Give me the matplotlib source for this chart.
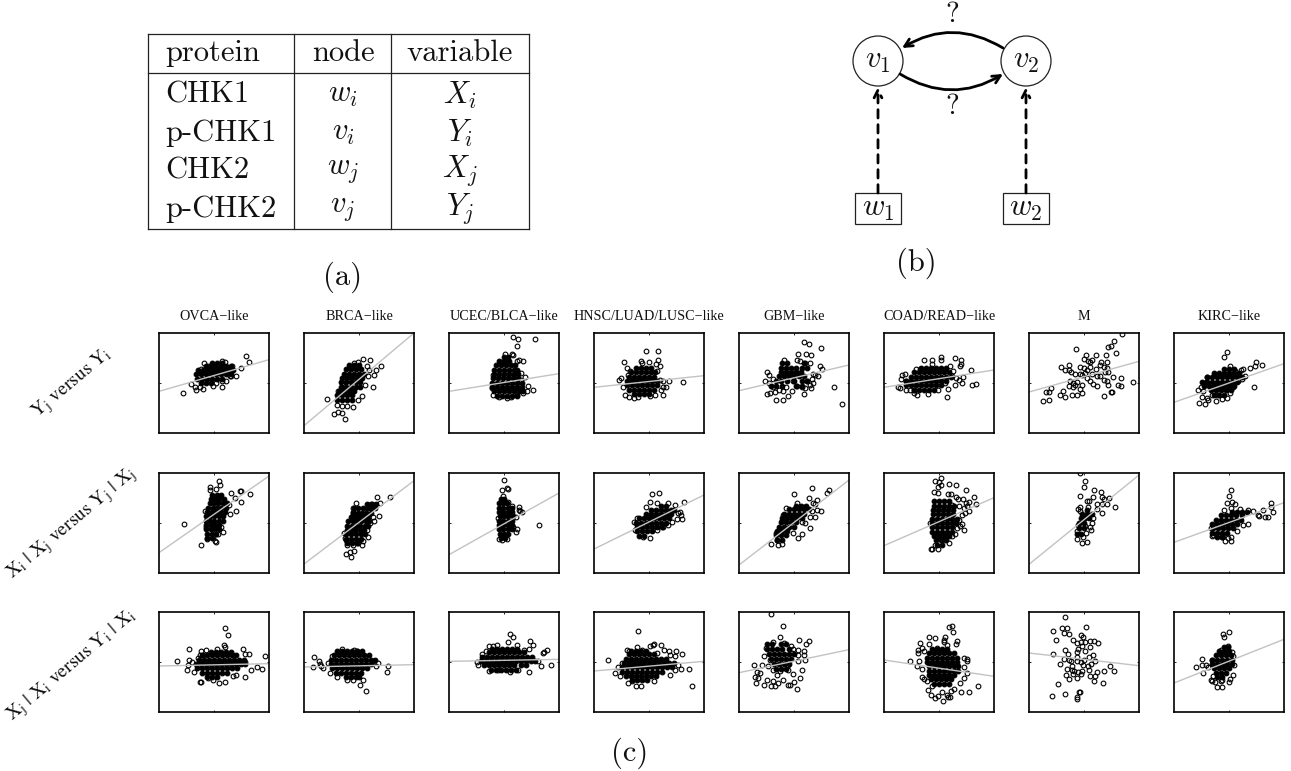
# -*- coding: utf-8 -*-
import matplotlib
matplotlib.use('Agg')
import matplotlib.pyplot as plt
from matplotlib.patches import Circle, FancyArrowPatch

plt.rcParams['mathtext.fontset'] = 'cm'
plt.rcParams['axes.unicode_minus'] = False

W, H = 1291, 771

#%% table (a)
proteins = ['CHK1', 'p-CHK1', 'CHK2', 'p-CHK2']
nodes = ['$w_i$', '$v_i$', '$w_j$', '$v_j$']
variables = ['$X_i$', '$Y_i$', '$X_j$', '$Y_j$']

#%% scatter panels (panel units: x 0-330, y 0-300)
titles = ['OVCA\u2212like', 'BRCA\u2212like', 'UCEC/BLCA\u2212like', 'HNSC/LUAD/LUSC\u2212like',
          'GBM\u2212like', 'COAD/READ\u2212like', 'M', 'KIRC\u2212like']
row_labels = [r'$\mathrm{Y_j\ versus\ Y_i}$',
              r'$\mathrm{X_i\ |\ X_j\ versus\ Y_j\ |\ X_j}$',
              r'$\mathrm{X_j\ |\ X_i\ versus\ Y_i\ |\ X_i}$']

line_left = [[125, 22, 125, 137, 127, 137, 123, 92],
             [61, 27, 55, 72, 24, 82, 26, 92],
             [138, 135, 152, 123, 118, 156, 177, 87]]
line_right = [[220, 300, 178, 172, 204, 189, 215, 208],
              [291, 277, 240, 234, 279, 226, 294, 211],
              [145, 142, 158, 152, 187, 107, 139, 218]]

# core = overlapping points that print solid, as {y: [x, ...]}
core_11 = {150: [125, 140, 155], 163: [115, 130, 145, 160, 175, 190],
           176: [110, 125, 140, 155, 170, 185, 200, 215], 189: [118, 133, 148, 163, 178, 193, 208, 222],
           202: [140, 155, 170, 185, 200, 215], 211: [160, 175, 190]}
open_11 = [(72, 120), (262, 230), (270, 212), (245, 196), (232, 170), (217, 172), (190, 137), (162, 142),
           (132, 132), (112, 130), (97, 147), (134, 210), (147, 202), (189, 216), (198, 214), (190, 155),
           (202, 155), (214, 170), (127, 192), (220, 200), (107, 138), (172, 150), (122, 138)]
core_12 = {100: [100, 115, 130, 145], 113: [100, 115, 130, 145], 126: [105, 120, 135, 150],
           139: [110, 125, 140, 155, 168], 152: [110, 125, 140, 155, 168], 165: [115, 130, 145, 160, 175],
           178: [120, 135, 150, 165, 180], 191: [125, 140, 155, 170], 204: [135, 150, 165]}
open_12 = [(70, 102), (91, 58), (101, 62), (113, 60), (123, 42), (98, 84), (113, 82), (128, 82), (146, 78),
           (176, 223), (198, 220), (161, 212), (188, 202), (196, 188), (216, 190), (232, 202), (210, 175),
           (208, 138), (183, 145), (173, 110), (163, 100), (150, 210), (103, 125), (113, 150), (128, 185),
           (193, 170)]
core_13 = {112: [145, 160, 175, 190, 205], 125: [135, 150, 165, 180, 195, 210, 222],
           138: [130, 145, 160, 175, 190, 205, 220], 151: [130, 145, 160, 175, 190, 205, 220],
           164: [132, 147, 162, 177, 192, 207], 177: [135, 150, 165, 180, 195, 208],
           190: [135, 150, 165, 180, 195, 205], 203: [140, 155, 170, 185, 198], 216: [150, 165, 180],
           229: [165, 178]}
open_13 = [(191, 288), (206, 282), (258, 282), (203, 262), (168, 238), (188, 238), (193, 233), (175, 222),
           (203, 217), (211, 220), (223, 215), (156, 212), (203, 185), (215, 180), (228, 168), (238, 140),
           (251, 128), (235, 125), (221, 120), (203, 115), (186, 107), (175, 105), (150, 108), (133, 115),
           (128, 135), (131, 175), (216, 160)]
core_14 = {118: [120, 135, 150, 165], 130: [105, 120, 135, 150, 165, 180],
           143: [100, 115, 130, 145, 160, 175, 190], 156: [100, 115, 130, 145, 160, 175, 190],
           169: [105, 120, 135, 150, 165, 180], 182: [110, 125, 140, 155, 170, 183], 195: [125, 140, 155, 170]}
open_14 = [(157, 245), (192, 245), (89, 214), (141, 217), (145, 210), (166, 214), (193, 219), (186, 208),
           (108, 185), (98, 195), (80, 165), (75, 158), (105, 160), (86, 137), (93, 115), (105, 108), (120, 105),
           (133, 107), (168, 110), (183, 115), (208, 115), (200, 130), (208, 138), (216, 138), (206, 157),
           (224, 155), (266, 152), (198, 160), (198, 200), (188, 185), (103, 175)]
core_15 = {140: [95, 110, 130, 170, 190], 155: [110, 125, 145, 165, 190, 205],
           170: [120, 135, 150, 165, 180, 195], 183: [125, 140, 155, 170, 185],
           196: [125, 140, 155, 170, 190, 205], 209: [130, 145, 195]}
open_15 = [(195, 273), (211, 267), (245, 255), (178, 238), (201, 237), (216, 235), (136, 218), (173, 220),
           (183, 215), (198, 210), (213, 210), (243, 202), (250, 193), (83, 182), (91, 175), (101, 163), (91, 150),
           (78, 155), (228, 175), (238, 172), (223, 178), (218, 162), (213, 145), (198, 135), (216, 135), (286, 137),
           (308, 86), (196, 117), (83, 118), (93, 120), (108, 122), (133, 125), (111, 100), (131, 100), (148, 112),
           (158, 125), (173, 140), (188, 138), (103, 138), (121, 130), (141, 138), (163, 155), (223, 150), (203, 155)]
core_16 = {130: [90, 105, 120, 135, 150], 143: [65, 80, 95, 110, 125, 140, 155, 170],
           156: [65, 80, 95, 110, 125, 140, 155, 170, 185], 169: [80, 95, 110, 125, 140, 155, 170, 185, 200],
           182: [90, 105, 120, 135, 150, 165, 180, 195], 195: [110, 125, 140, 155, 170, 185]}
open_16 = [(172, 228), (214, 225), (231, 220), (232, 208), (227, 200), (119, 220), (144, 220), (144, 208),
           (172, 218), (97, 192), (107, 192), (54, 175), (64, 178), (51, 163), (66, 155), (41, 138), (49, 134),
           (67, 128), (89, 130), (99, 113), (131, 117), (162, 130), (191, 132), (189, 109), (184, 150), (224, 160),
           (237, 168), (235, 150), (264, 144), (275, 148), (261, 188), (207, 185), (197, 200), (204, 170), (217, 165),
           (214, 145), (79, 130), (89, 120)]
core_17 = {}
open_17 = [(278, 297), (255, 277), (245, 262), (236, 257), (141, 252), (260, 240), (231, 235), (171, 235),
           (200, 233), (188, 220), (165, 222), (178, 215), (183, 212), (216, 213), (233, 213), (120, 203), (96, 198),
           (109, 190), (121, 190), (153, 197), (165, 195), (183, 197), (200, 192), (226, 197), (235, 195), (213, 205),
           (125, 182), (138, 178), (153, 178), (173, 188), (168, 180), (158, 175), (238, 182), (228, 182), (205, 170),
           (213, 172), (253, 168), (276, 164), (311, 154), (235, 155), (226, 160), (173, 164), (183, 155), (193, 148),
           (203, 140), (123, 155), (131, 150), (143, 152), (121, 142), (133, 138), (138, 145), (158, 145), (153, 132),
           (158, 120), (101, 125), (93, 115), (108, 107), (130, 115), (143, 115), (225, 112), (245, 124), (248, 124),
           (266, 143), (275, 140), (238, 145), (66, 135), (51, 123), (61, 122), (41, 97), (61, 98), (190, 178)]
core_18 = {115: [120, 135, 150], 128: [110, 125, 140, 155, 170], 141: [90, 105, 120, 135, 150, 165, 180],
           154: [85, 100, 115, 130, 145, 160, 175, 190], 167: [100, 115, 130, 145, 160, 175, 190, 203],
           180: [120, 135, 150, 165, 180, 195], 192: [150, 165, 180]}
open_18 = [(158, 242), (150, 228), (168, 202), (246, 212), (263, 203), (243, 200), (228, 195), (200, 190),
           (183, 187), (208, 192), (213, 170), (241, 137), (95, 152), (80, 138), (73, 128), (88, 125), (83, 108),
           (98, 105), (103, 100), (76, 90), (93, 88), (125, 95), (143, 102), (158, 105), (168, 120), (178, 138),
           (128, 115), (113, 115), (193, 155), (203, 162), (98, 168), (128, 175)]

core_21 = {105: [145, 158], 118: [145, 158, 172], 131: [142, 155, 168, 180], 144: [142, 155, 168, 180],
           157: [140, 153, 166, 179, 192], 170: [140, 153, 166, 179, 192], 183: [145, 158, 171, 184, 197],
           196: [148, 161, 174, 187, 200], 209: [152, 165, 178, 191, 204], 222: [155, 168, 181, 194],
           235: [160, 173, 186]}
open_21 = [(180, 277), (182, 265), (154, 257), (154, 249), (172, 251), (242, 247), (245, 247), (272, 238),
           (215, 241), (227, 224), (245, 214), (232, 187), (212, 177), (75, 148), (139, 187), (142, 137), (150, 124),
           (192, 124), (185, 139), (125, 84), (144, 103), (162, 107), (167, 97), (170, 93), (177, 117), (192, 179),
           (210, 204)]
core_22 = {90: [130, 145, 160], 103: [125, 140, 155, 170], 116: [125, 140, 155, 170, 183],
           129: [128, 141, 154, 167, 180], 142: [130, 143, 156, 169, 182, 193], 155: [133, 146, 159, 172, 185, 196],
           168: [140, 153, 166, 179, 192], 181: [148, 161, 174, 187, 200], 194: [150, 163, 176, 189, 202, 212],
           207: [190, 203, 215]}
open_22 = [(220, 227), (258, 227), (155, 209), (148, 194), (148, 184), (146, 174), (200, 206), (210, 204),
           (228, 209), (226, 171), (211, 156), (188, 129), (191, 109), (178, 97), (173, 84), (121, 119), (126, 99),
           (128, 84), (126, 58), (138, 64), (150, 66), (140, 48), (146, 84), (163, 89), (123, 104), (208, 169),
           (198, 149), (193, 194)]
core_23 = {105: [155, 168], 118: [152, 165, 178], 131: [150, 163, 176, 189], 144: [150, 163, 176, 189],
           157: [150, 163, 176, 189], 170: [152, 165, 178, 191], 183: [150, 163, 176, 189], 196: [150, 163, 176, 189],
           209: [150, 163, 175], 222: [155, 165]}
open_23 = [(165, 278), (158, 248), (175, 256), (178, 252), (161, 231), (159, 219), (176, 212), (190, 202),
           (211, 199), (211, 189), (220, 182), (213, 186), (200, 169), (270, 144), (205, 132), (201, 124), (175, 101),
           (160, 98), (150, 102), (148, 164), (183, 184), (193, 139)]
core_24 = {112: [135, 150], 125: [130, 145, 160, 175], 138: [128, 143, 158, 173, 188, 203],
           151: [125, 140, 155, 170, 185, 200, 215], 164: [135, 150, 165, 180, 195, 210, 225],
           177: [155, 170, 185, 200, 215, 230], 190: [170, 185, 200, 215, 230, 240], 200: [200, 215]}
open_24 = [(175, 238), (196, 240), (168, 212), (188, 211), (221, 211), (243, 204), (269, 213), (156, 199),
           (130, 166), (120, 154), (123, 129), (148, 107), (169, 105), (188, 129), (221, 144), (248, 161), (263, 161),
           (258, 184), (260, 174), (253, 179), (208, 139), (233, 154)]
core_25 = {100: [115, 130], 113: [110, 125, 140], 126: [115, 130, 145], 139: [120, 135, 150, 165],
           152: [125, 140, 155, 170], 165: [130, 145, 160, 175, 190], 178: [135, 150, 165, 180, 195],
           191: [150, 165, 180, 195, 210], 201: [170, 185, 200]}
open_25 = [(218, 256), (271, 248), (263, 239), (164, 237), (211, 226), (233, 220), (221, 211), (228, 206),
           (173, 209), (140, 196), (233, 189), (245, 185), (218, 187), (195, 199), (133, 174), (128, 157), (213, 169),
           (228, 169), (213, 136), (188, 116), (176, 105), (95, 86), (118, 83), (128, 86), (113, 99), (111, 119),
           (133, 129), (163, 119), (198, 149), (188, 154)]
core_26 = {85: [160, 175], 98: [155, 170, 185], 111: [150, 165, 180, 195], 124: [145, 160, 175, 190, 205],
           137: [145, 160, 175, 190, 205], 150: [143, 158, 173, 188, 203, 215], 163: [143, 158, 173, 188, 203, 218],
           176: [148, 163, 178, 193, 208], 189: [148, 163, 178, 193, 208], 202: [150, 165, 180, 195, 210],
           215: [150, 165, 180, 195]}
open_26 = [(172, 285), (152, 276), (166, 272), (171, 264), (161, 259), (195, 267), (215, 265), (151, 242),
           (162, 239), (191, 237), (202, 237), (217, 229), (221, 222), (247, 248), (269, 227), (237, 223), (254, 214),
           (247, 211), (275, 207), (249, 201), (224, 201), (241, 194), (254, 187), (244, 179), (234, 174), (224, 159),
           (234, 147), (229, 141), (239, 129), (214, 117), (204, 112), (194, 89), (162, 73), (141, 73), (144, 73),
           (154, 84), (179, 99), (139, 149), (219, 134), (204, 204)]
core_27 = {118: [145, 155], 135: [150, 165], 150: [150, 165], 165: [155, 168, 180], 178: [160, 175, 190], 189: [175]}
open_27 = [(153, 299), (168, 276), (165, 259), (196, 249), (217, 242), (218, 229), (191, 227), (153, 232),
           (226, 222), (241, 226), (173, 216), (179, 216), (203, 207), (219, 207), (233, 206), (259, 197), (153, 197),
           (148, 191), (178, 197), (205, 191), (218, 181), (193, 164), (190, 151), (185, 129), (171, 121), (148, 144),
           (145, 127), (143, 103), (158, 89), (173, 94), (161, 107), (153, 187), (183, 139), (168, 141)]
core_28 = {108: [130, 145], 121: [115, 130, 145, 160], 134: [118, 133, 148, 163, 178],
           147: [115, 130, 145, 160, 175, 190], 160: [125, 140, 155, 170, 185, 200],
           173: [140, 155, 170, 185, 205], 183: [175, 190, 205, 220]}
open_28 = [(170, 249), (166, 232), (175, 214), (158, 210), (182, 206), (171, 194), (198, 191), (151, 188),
           (290, 209), (291, 199), (266, 189), (298, 182), (238, 186), (221, 189), (253, 174), (256, 172), (273, 167),
           (283, 168), (223, 147), (206, 144), (190, 126), (110, 136), (116, 113), (114, 111), (148, 111), (170, 109),
           (170, 96), (153, 96), (143, 107), (163, 104)]

core_31 = {105: [145, 160, 175], 118: [130, 145, 160, 175, 190, 205],
           131: [115, 130, 145, 160, 175, 190, 205, 220, 235],
           144: [110, 125, 140, 155, 170, 185, 200, 215, 230, 245, 258],
           157: [120, 135, 150, 165, 180, 195, 210, 225, 240, 255],
           170: [130, 145, 160, 175, 190, 205, 220, 232], 180: [155, 170, 185, 200, 215]}
open_31 = [(199, 251), (208, 231), (194, 200), (197, 194), (90, 189), (127, 182), (140, 187), (174, 189),
           (252, 189), (259, 174), (269, 175), (317, 167), (53, 154), (90, 156), (99, 149), (87, 142), (85, 127),
           (104, 120), (277, 127), (294, 135), (310, 128), (257, 149), (259, 105), (122, 91), (126, 91), (162, 97),
           (180, 86), (197, 90), (222, 107), (232, 112), (122, 172), (117, 162), (132, 172), (222, 172), (147, 102)]
core_32 = {105: [125, 140, 155, 165], 118: [95, 110, 125, 140, 155, 170],
           131: [85, 100, 115, 130, 145, 160, 175, 190], 144: [80, 95, 110, 125, 140, 155, 170, 185, 200],
           157: [80, 95, 110, 125, 140, 155, 170, 185, 200, 212], 170: [90, 105, 120, 135, 150, 165, 180, 195],
           183: [100, 115, 130, 145, 160, 175]}
open_32 = [(185, 64), (168, 82), (178, 97), (148, 95), (128, 95), (113, 189), (108, 180), (118, 180), (150, 187),
           (85, 169), (29, 164), (44, 152), (48, 145), (52, 139), (56, 132), (28, 135), (73, 147), (223, 147),
           (216, 137), (253, 138), (250, 121), (78, 117), (98, 104), (163, 112), (158, 182), (183, 167), (208, 152)]
core_33 = {127: [125, 140, 155, 170, 185, 200], 140: [105, 120, 135, 150, 165, 180, 195, 215, 230],
           153: [95, 110, 125, 140, 155, 170, 185, 200, 215, 230, 245, 258],
           166: [100, 115, 130, 145, 160, 175, 190, 205, 220, 235, 250],
           179: [120, 135, 150, 165, 180, 195, 210, 225], 190: [130, 145, 160, 175, 190, 205]}
open_33 = [(183, 235), (192, 224), (177, 209), (243, 214), (251, 201), (121, 199), (133, 199), (144, 201),
           (203, 202), (98, 175), (111, 182), (226, 185), (239, 189), (293, 186), (286, 179), (283, 177), (277, 139),
           (307, 141), (240, 120), (121, 122), (83, 150), (87, 140), (268, 152), (184, 119), (148, 127), (208, 127)]
core_34 = {95: [115, 130, 145, 160], 108: [95, 110, 125, 140, 155, 170, 185],
           121: [85, 100, 115, 130, 145, 160, 175, 190, 205],
           134: [85, 100, 115, 130, 145, 160, 175, 190, 205, 220, 235],
           147: [90, 105, 120, 135, 150, 165, 180, 195, 210, 225, 240],
           160: [95, 110, 125, 140, 155, 170, 185, 200, 215], 173: [105, 120, 135, 150, 165, 180],
           183: [110, 125, 140, 155]}
open_34 = [(133, 242), (43, 155), (64, 118), (77, 107), (73, 135), (83, 147), (98, 187), (105, 182), (130, 194),
           (143, 187), (168, 197), (176, 202), (180, 205), (201, 202), (210, 187), (188, 177), (225, 182), (246, 182),
           (264, 175), (228, 170), (243, 167), (261, 129), (285, 128), (293, 77), (103, 87), (125, 77), (142, 79),
           (180, 94), (228, 112), (243, 127), (113, 92), (253, 142)]
core_35 = {130: [110, 125, 140], 145: [105, 120, 135, 150], 160: [95, 110, 125, 140, 155],
           175: [90, 105, 120, 135, 150, 165], 190: [85, 100, 115, 130, 150], 205: [85, 100, 125, 140]}
open_35 = [(97, 294), (133, 258), (122, 224), (102, 209), (136, 207), (181, 215), (210, 213), (200, 203),
           (155, 197), (161, 189), (178, 187), (195, 184), (195, 172), (178, 172), (158, 177), (80, 192), (76, 167),
           (68, 142), (44, 140), (53, 119), (63, 117), (48, 105), (58, 102), (50, 87), (76, 82), (95, 79), (108, 79),
           (83, 97), (101, 92), (118, 87), (133, 97), (148, 82), (154, 81), (175, 69), (165, 89), (184, 102), (189, 125),
           (163, 115), (148, 127), (113, 112), (123, 122), (88, 137), (103, 127), (133, 137), (148, 142), (178, 152),
           (198, 155), (93, 157)]
core_36 = {85: [150, 165, 180, 195], 98: [140, 155, 170, 185, 200], 111: [135, 150, 165, 180, 195, 210],
           124: [135, 150, 165, 180, 195, 210, 222], 137: [135, 150, 165, 180, 195, 210, 222],
           150: [130, 145, 160, 175, 190, 205, 220], 163: [130, 145, 160, 175, 190, 205, 220],
           176: [135, 150, 165, 180, 195, 210], 189: [145, 160, 175, 190]}
open_36 = [(194, 254), (204, 258), (207, 239), (135, 225), (153, 222), (184, 225), (181, 217), (219, 213),
           (216, 205), (108, 206), (135, 204), (189, 202), (179, 209), (115, 192), (101, 185), (101, 177), (121, 182),
           (159, 192), (79, 154), (105, 154), (99, 139), (115, 129), (239, 162), (249, 159), (249, 152), (239, 134),
           (249, 118), (241, 103), (281, 79), (254, 60), (232, 60), (209, 69), (201, 62), (199, 45), (189, 52), (176, 34),
           (175, 59), (161, 47), (153, 42), (140, 51), (133, 67), (144, 77), (113, 106), (121, 99), (129, 92), (229, 87),
           (191, 45)]
core_37 = {}
open_37 = [(107, 284), (73, 244), (100, 251), (114, 252), (106, 237), (119, 233), (171, 255), (156, 232),
           (163, 225), (80, 217), (133, 215), (143, 207), (155, 210), (168, 209), (183, 214), (195, 212), (206, 206),
           (183, 195), (158, 197), (108, 187), (118, 175), (73, 175), (148, 189), (145, 180), (168, 184), (193, 170),
           (181, 165), (145, 164), (104, 158), (121, 157), (126, 152), (143, 152), (155, 151), (165, 157), (197, 154),
           (186, 145), (177, 138), (92, 144), (129, 137), (115, 129), (128, 127), (136, 122), (148, 121), (158, 122),
           (161, 142), (181, 126), (204, 120), (226, 124), (242, 138), (255, 123), (182, 109), (198, 109), (143, 102),
           (155, 114), (110, 110), (119, 99), (133, 115), (196, 92), (222, 87), (87, 85), (69, 48), (108, 55), (149, 60),
           (152, 60), (145, 45), (144, 38)]
core_38 = {105: [130, 145], 118: [125, 140, 155], 131: [120, 135, 150, 165], 144: [115, 130, 145, 160, 175],
           157: [115, 130, 145, 160, 175], 170: [125, 140, 155, 170], 183: [135, 150, 165], 195: [150, 163]}
open_38 = [(165, 241), (147, 234), (150, 224), (140, 187), (163, 199), (174, 179), (176, 167), (85, 159),
           (113, 157), (85, 142), (65, 136), (96, 141), (103, 135), (86, 117), (181, 142), (176, 112), (168, 99),
           (166, 89), (145, 97), (141, 92), (144, 75), (129, 76), (123, 89), (110, 97), (113, 92), (118, 107)]

cores = [[core_11, core_12, core_13, core_14, core_15, core_16, core_17, core_18],
         [core_21, core_22, core_23, core_24, core_25, core_26, core_27, core_28],
         [core_31, core_32, core_33, core_34, core_35, core_36, core_37, core_38]]
opens = [[open_11, open_12, open_13, open_14, open_15, open_16, open_17, open_18],
         [open_21, open_22, open_23, open_24, open_25, open_26, open_27, open_28],
         [open_31, open_32, open_33, open_34, open_35, open_36, open_37, open_38]]

#%% layout, all in reference pixels
col_left = [159, 304, 449, 594, 739, 884, 1029, 1174]
row_top = [333, 473, 612]
panel_w, panel_h = 110, 100

fig = plt.figure(figsize=(W / 100, H / 100), dpi=100)
bg = fig.add_axes([0, 0, 1, 1])
bg.set_xlim(0, W)
bg.set_ylim(H, 0)
bg.axis('off')

#%% (a)
for yy in [34, 73, 229]:
    bg.plot([148, 529], [yy, yy], color='#222222', lw=0.9)
for xx in [148, 294, 391, 529]:
    bg.plot([xx, xx], [34, 229], color='#222222', lw=0.9)
cm = dict(family='cmr10', fontsize=22, color='#111111', va='center')
bg.text(165, 53, 'protein', ha='left', **cm)
bg.text(343, 53, 'node', ha='center', **cm)
bg.text(460, 53, 'variable', ha='center', **cm)
row_y = [95, 133, 171, 209]
for i in range(4):
    bg.text(165, row_y[i], proteins[i], ha='left', **cm)
    bg.text(343, row_y[i], nodes[i], ha='center', **cm)
    bg.text(460, row_y[i], variables[i], ha='center', **cm)
bg.text(343, 277, '(a)', ha='center', **cm)

#%% (b)
for cx, name in [(878, '$v_1$'), (1026, '$v_2$')]:
    bg.add_patch(Circle((cx, 61), 25, fc='white', ec='#222222', lw=0.9))
    bg.text(cx, 61, name, ha='center', **cm)
for cx, name in [(878, '$w_1$'), (1026, '$w_2$')]:
    bg.add_patch(plt.Rectangle((cx - 23, 193), 46, 31, fc='white', ec='#222222', lw=0.9))
    bg.text(cx, 209, name, ha='center', **cm)
    bg.add_patch(FancyArrowPatch((cx, 193), (cx, 87), arrowstyle='->', mutation_scale=14, lw=2,
                                 linestyle=(0, (3, 2.4)), color='black', shrinkA=0, shrinkB=0))
bg.add_patch(FancyArrowPatch((1003, 48), (902, 48), connectionstyle='arc3,rad=0.3', arrowstyle='->',
                             mutation_scale=14, lw=2, color='black', shrinkA=0, shrinkB=0))
bg.add_patch(FancyArrowPatch((900, 74), (1003, 74), connectionstyle='arc3,rad=0.3', arrowstyle='->',
                             mutation_scale=14, lw=2, color='black', shrinkA=0, shrinkB=0))
bg.text(952, 15, '?', ha='center', family='cmr10', fontsize=21, color='#111111', va='center')
bg.text(952, 107, '?', ha='center', family='cmr10', fontsize=21, color='#111111', va='center')
bg.text(916, 263, '(b)', ha='center', **cm)
bg.text(630, 753, '(c)', ha='center', **cm)

#%% (c)
label_y = [384, 524, 666]
for r in range(3):
    bg.text(72, label_y[r], row_labels[r], rotation=40, ha='center', va='center', rotation_mode='anchor',
            fontsize=14, math_fontfamily='stix', color='#111111')
    for c in range(8):
        ax = fig.add_axes([col_left[c] / W, 1 - (row_top[r] + panel_h) / H, panel_w / W, panel_h / H])
        pts = opens[r][c]
        ax.plot([p[0] for p in pts], [p[1] for p in pts], 'o', mfc='none', mec='black', ms=3.4, mew=0.8)
        core = cores[r][c]
        for yy, xs in core.items():
            ax.plot(xs, [yy] * len(xs), 'o', mfc='black', mec='black', ms=3.4, mew=0.8)
        ax.plot([0, 330], [line_left[r][c], line_right[r][c]], color='#c2c2c2', lw=1)
        ax.set_xlim(0, 330)
        ax.set_ylim(0, 300)
        ax.set_xticks([165])
        ax.set_yticks([150])
        ax.tick_params(direction='in', length=1.5, width=0.6, top=True, right=True,
                       labelbottom=False, labelleft=False)
        for s in ax.spines.values():
            s.set_linewidth(1.2)
        if r == 0:
            bg.text(col_left[c] + panel_w / 2, 316, titles[c], ha='center', va='center',
                    family='Liberation Serif', fontsize=10.2, color='#111111')

fig.savefig('out.png', dpi=100)
